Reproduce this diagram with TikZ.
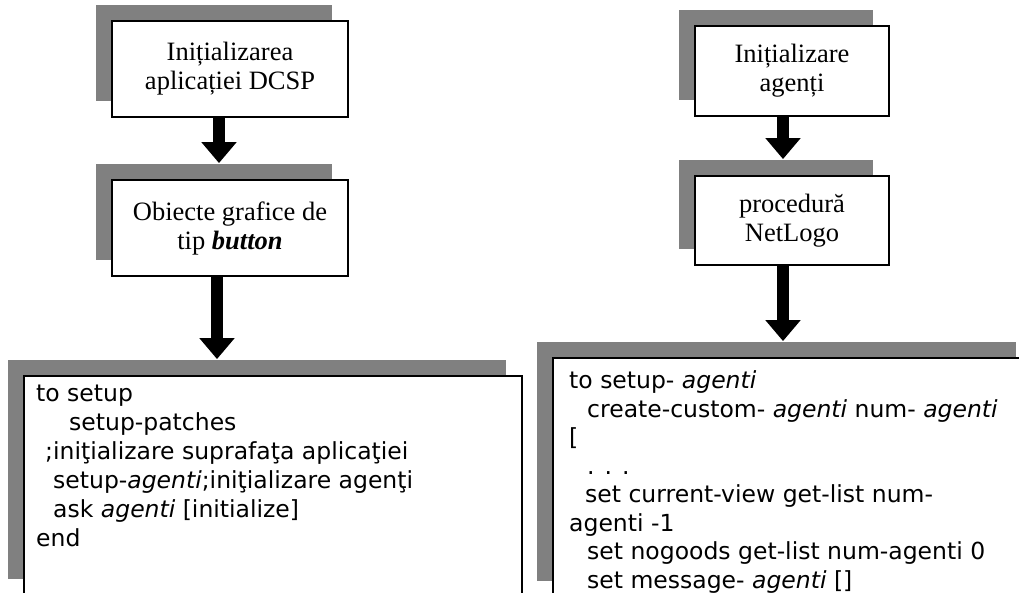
\documentclass[tikz,border=0pt]{standalone}
\usepackage{fontspec}
\setmainfont{Liberation Serif}
\newfontfamily\codefont{DejaVu Sans}
\usetikzlibrary{shadows,arrows.meta}
\definecolor{shade}{HTML}{808080}
\begin{document}
\begin{tikzpicture}[x=1pt,y=-1pt,
  stepbox/.style={draw=black, line width=1.8pt, fill=white, rectangle, inner sep=0pt,
    general shadow={fill=shade, shadow xshift=-16pt, shadow yshift=16pt}},
  titled/.style={stepbox, align=center, font=\fontsize{26.5}{29}\selectfont},
  code/.style={font=\codefont\fontsize{23.5}{29}\selectfont, align=left,
    anchor=north west, inner sep=0pt},
  flow/.style={line width=12pt, -{Triangle[width=34pt,length=21pt]}},
]
\useasboundingbox (0,0) rectangle (1019,593);
\clip (0,0) rectangle (1019,593);

% left column
\node[titled, minimum width=236pt, minimum height=96pt] (a1) at (230,69)
  {Inițializarea\\aplicației DCSP};
\node[titled, minimum width=236pt, minimum height=96pt] (a2) at (230,228)
  {Obiecte grafice de\\tip \textbf{\textit{button}}};
\node[stepbox, minimum width=498pt, minimum height=219pt] (a3) at (273,485.5) {};
\node[code] (a3text) at (36,384.5)
  {to setup\\
   \hspace*{33pt}setup-patches\\
   \hspace*{9pt};iniţializare suprafaţa aplicaţiei\\
   \hspace*{17pt}setup-\textit{agenti};iniţializare agenţi\\
   \hspace*{17pt}ask \textit{agenti} [initialize]\\
   end};

% right column
\node[titled, minimum width=194pt, minimum height=90pt] (b1) at (792,71)
  {Inițializare\\agenți};
\node[titled, minimum width=194pt, minimum height=89pt] (b2) at (792,220.5)
  {procedură\\NetLogo};
\node[stepbox, minimum width=479pt, minimum height=239pt] (b3) at (792.5,477.5) {};
\node[code, font=\codefont\fontsize{23.5}{28.5}\selectfont] (b3text) at (569,370.5)
  {to setup- \textit{agenti}\\
   \hspace*{18pt}create-custom- \textit{agenti} num- \textit{agenti}\\
   {[}\\
   \hspace*{18pt}. . .\\
   \hspace*{16pt}set current-view get-list num-\\
   agenti -1\\
   \hspace*{18pt}set nogoods get-list num-agenti 0\\
   \hspace*{18pt}set message- \textit{agenti} []};

% connectors
\draw[flow] ([xshift=-11pt]a1.south) -- ([xshift=-11pt,yshift=16pt]a1.south |- a2.north);
\draw[flow] ([xshift=-13pt]a2.south) -- ([xshift=-13pt,yshift=16pt]a2.south |- a3.north);
\draw[flow] ([xshift=-9pt]b1.south) -- ([xshift=-9pt,yshift=16pt]b1.south |- b2.north);
\draw[flow] ([xshift=-9pt]b2.south) -- ([xshift=-9pt,yshift=16pt]b2.south |- b3.north);
\end{tikzpicture}
\end{document}
